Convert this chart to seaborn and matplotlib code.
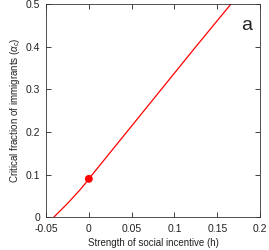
import numpy as np
import matplotlib
matplotlib.use("Agg")
import matplotlib.pyplot as plt
import seaborn as sns

sns.set_style("ticks")
plt.rcParams['font.family'] = ['Liberation Sans', 'DejaVu Sans']
plt.rcParams['mathtext.fontset'] = 'custom'
plt.rcParams['mathtext.rm'] = 'Liberation Sans'
plt.rcParams['mathtext.it'] = 'Liberation Sans:italic'

# critical fraction of immigrants vs strength of social incentive
h = [-0.041, -0.035, -0.03, -0.025, -0.02, -0.015, -0.01, -0.005, 0.0,
     0.025, 0.05, 0.075, 0.1, 0.125, 0.15, 0.166]
alpha_c = [0.0, 0.012, 0.022, 0.032, 0.043, 0.054, 0.065, 0.077, 0.09,
           0.152, 0.214, 0.276, 0.338, 0.4, 0.461, 0.5]
marker_h = [0.0]
marker_alpha = [0.09]

xticks = [-0.05, 0, 0.05, 0.1, 0.15, 0.2]
xtick_labels = ["-0.05", "0", "0.05", "0.1", "0.15", "0.2"]
yticks = [0, 0.1, 0.2, 0.3, 0.4, 0.5]
ytick_labels = ["0", "0.1", "0.2", "0.3", "0.4", "0.5"]

fig = plt.figure(figsize=(2.69, 2.5), dpi=100)
ax = fig.add_axes([0.171, 0.131, 0.796, 0.853])

sns.lineplot(x=h, y=alpha_c, ax=ax, color="#ff0000", linewidth=0.9)
sns.scatterplot(x=marker_h, y=marker_alpha, ax=ax, color="#ff0000", s=32,
                edgecolor="none", zorder=3)

ax.set_xlim(-0.05, 0.2)
ax.set_ylim(0, 0.5)
ax.set_xticks(xticks)
ax.set_xticklabels(xtick_labels)
ax.set_yticks(yticks)
ax.set_yticklabels(ytick_labels)
ax.tick_params(direction="in", length=3.5, width=0.6, labelsize=7.5,
               top=True, right=True, colors="#222222")
ax.tick_params(axis="x", pad=5)
ax.tick_params(axis="y", pad=4)
for sp in ax.spines.values():
    sp.set_linewidth(0.6)
    sp.set_color("#333333")

ax.set_xlabel("Strength of social incentive (h)", fontsize=7, labelpad=3,
              color="#222222")
ax.set_ylabel(r"Critical fraction of immigrants ($\alpha_c$)", fontsize=7,
              labelpad=3, color="#222222")
ax.text(0.935, 0.9, "a", transform=ax.transAxes, fontsize=14,
        ha="center", va="center")

fig.savefig("out.png", dpi=100)
